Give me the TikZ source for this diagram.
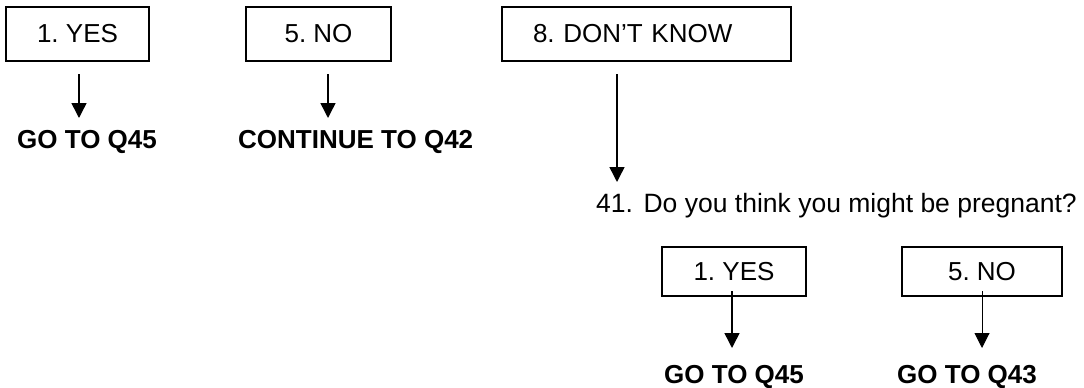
\documentclass[tikz,border=0pt]{standalone}
\usepackage{fontspec}
\setmainfont{Liberation Sans}
\usetikzlibrary{arrows.meta}
\frenchspacing
\tikzset{
  optbox/.style={draw, line width=1.5pt, inner sep=0pt, font=\fontsize{26}{30}\selectfont},
  gotext/.style={inner sep=0pt, anchor=base west, font=\fontsize{26}{30}\selectfont\bfseries},
  qtext/.style={inner sep=0pt, anchor=base west, font=\fontsize{26.5}{30}\selectfont},
  arr/.style={line width=1.5pt, -{Triangle[width=15pt,length=15pt]}},
}
\begin{document}
\begin{tikzpicture}[x=1pt,y=-1pt]
\useasboundingbox (0,0) rectangle (1084,388);
% top row boxes
\node[optbox, minimum width=143pt, minimum height=54pt] (b1) at (77.5,34) {1. YES};
\node[optbox, minimum width=145pt, minimum height=54pt] (b2) at (318.5,34) {5. NO};
\node[optbox, minimum width=289pt, minimum height=54pt, text width=227pt, align=left, inner xsep=31pt] (b3) at (646.5,34) {8. DON'T KNOW};
% top targets
\node[gotext] (g1) at (17,148) {GO TO Q45};
\node[gotext] (g2) at (238,148) {CONTINUE TO Q42};
\node[qtext] (q41) at (596,212) {41.\hspace{0.4em}Do you think you might be pregnant?};
% bottom boxes
\node[optbox, minimum width=144pt, minimum height=49pt] (b4) at (734,271.5) {1. YES};
\node[optbox, minimum width=160pt, minimum height=49pt] (b5) at (982,271.5) {5. NO};
\node[gotext] (g4) at (664,383) {GO TO Q45};
\node[gotext] (g5) at (897,383) {GO TO Q43};
% connector endpoints
\coordinate (a1s) at (79,74);  \coordinate (a1e) at (79,118);
\coordinate (a2s) at (328,74); \coordinate (a2e) at (328,118);
\coordinate (a3s) at (617,74); \coordinate (a3e) at (617,182);
\coordinate (a4s) at (732,291); \coordinate (a4e) at (732,348);
\coordinate (a5s) at (982,291); \coordinate (a5e) at (982,348);
\draw[arr] (a1s) -- (a1e);
\draw[arr] (a2s) -- (a2e);
\draw[arr] (a3s) -- (a3e);
\draw[arr] (a4s) -- (a4e);
\draw[arr, line width=1pt] (a5s) -- (a5e);
\end{tikzpicture}
\end{document}
